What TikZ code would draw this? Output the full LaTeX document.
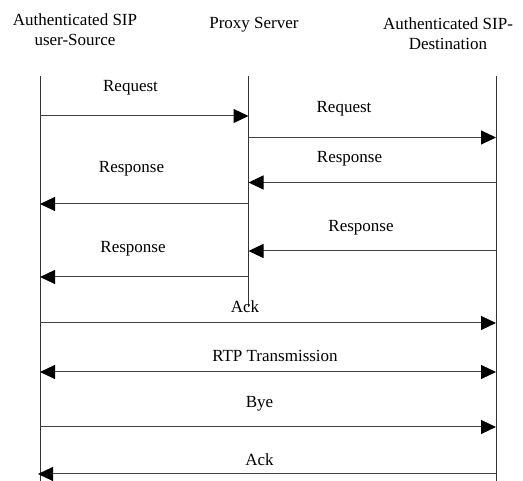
\documentclass[tikz,border=0pt]{standalone}
\usepackage{fontspec}
\setmainfont{Liberation Serif}
\usetikzlibrary{arrows.meta}
\begin{document}
\begin{tikzpicture}[x=1pt,y=-1pt,
  lifeline/.style={draw=black!80,line width=1pt},
  msg/.style={draw=black!75,line width=1pt,-{Triangle[length=15pt,width=14pt,color=black]}},
  msgboth/.style={draw=black!75,line width=1pt,{Triangle[length=15pt,width=14pt,color=black]}-{Triangle[length=15pt,width=14pt,color=black]}},
  lbl/.style={anchor=base,inner sep=0pt,font=\fontsize{17}{20}\selectfont},
  head/.style={anchor=base,inner sep=0pt,align=center,font=\fontsize{17}{20}\selectfont}]
\useasboundingbox (0,0) rectangle (523,481);

% participants (base anchor sits on the last line)
\node[head] (hsrc) at (75,46) {Authenticated SIP\\user-Source};
\node[head] (hprx) at (254,29) {Proxy Server};
\node[head] (hdst) at (448,50) {Authenticated SIP-\\Destination};

% lifelines
\coordinate (srcTop) at (40,76);   \coordinate (srcBot) at (40,481);
\coordinate (prxTop) at (248.5,76); \coordinate (prxBot) at (248.5,307);
\coordinate (dstTop) at (496,76);  \coordinate (dstBot) at (496,481);
\draw[lifeline] (srcTop) -- (srcBot);
\draw[lifeline] (prxTop) -- (prxBot);
\draw[lifeline] (dstTop) -- (dstBot);

% message end points on the lifelines
\foreach \n/\y in {1/116,2/137.5,3/182.5,4/204,5/251,6/277,7/323,8/372,9/427,10/474}{
  \coordinate (s\n) at (40,\y);
  \coordinate (p\n) at (248.5,\y);
  \coordinate (d\n) at (496,\y);
}
\coordinate (s10t) at (38,474);

% messages
\draw[msg] (s1) -- (p1);
\node[lbl] (l1) at (130.5,92) {Request};
\draw[msg] (p2) -- (d2);
\node[lbl] (l2) at (344,113) {Request};
\draw[msg] (d3) -- (p3);
\node[lbl] (l3) at (349.5,163) {Response};
\draw[msg] (p4) -- (s4);
\node[lbl] (l4) at (131.5,173) {Response};
\draw[msg] (d5) -- (p5);
\node[lbl] (l5) at (361,232) {Response};
\draw[msg] (p6) -- (s6);
\node[lbl] (l6) at (133,253) {Response};
\draw[msg] (s7) -- (d7);
\node[lbl] (l7) at (245,313) {Ack};
\draw[msgboth] (s8) -- (d8);
\node[lbl] (l8) at (275,362) {RTP Transmission};
\draw[msg] (s9) -- (d9);
\node[lbl] (l9) at (259.5,408) {Bye};
\draw[msg] (d10) -- (s10t);
\node[lbl] (l10) at (259.5,466) {Ack};
\end{tikzpicture}
\end{document}
